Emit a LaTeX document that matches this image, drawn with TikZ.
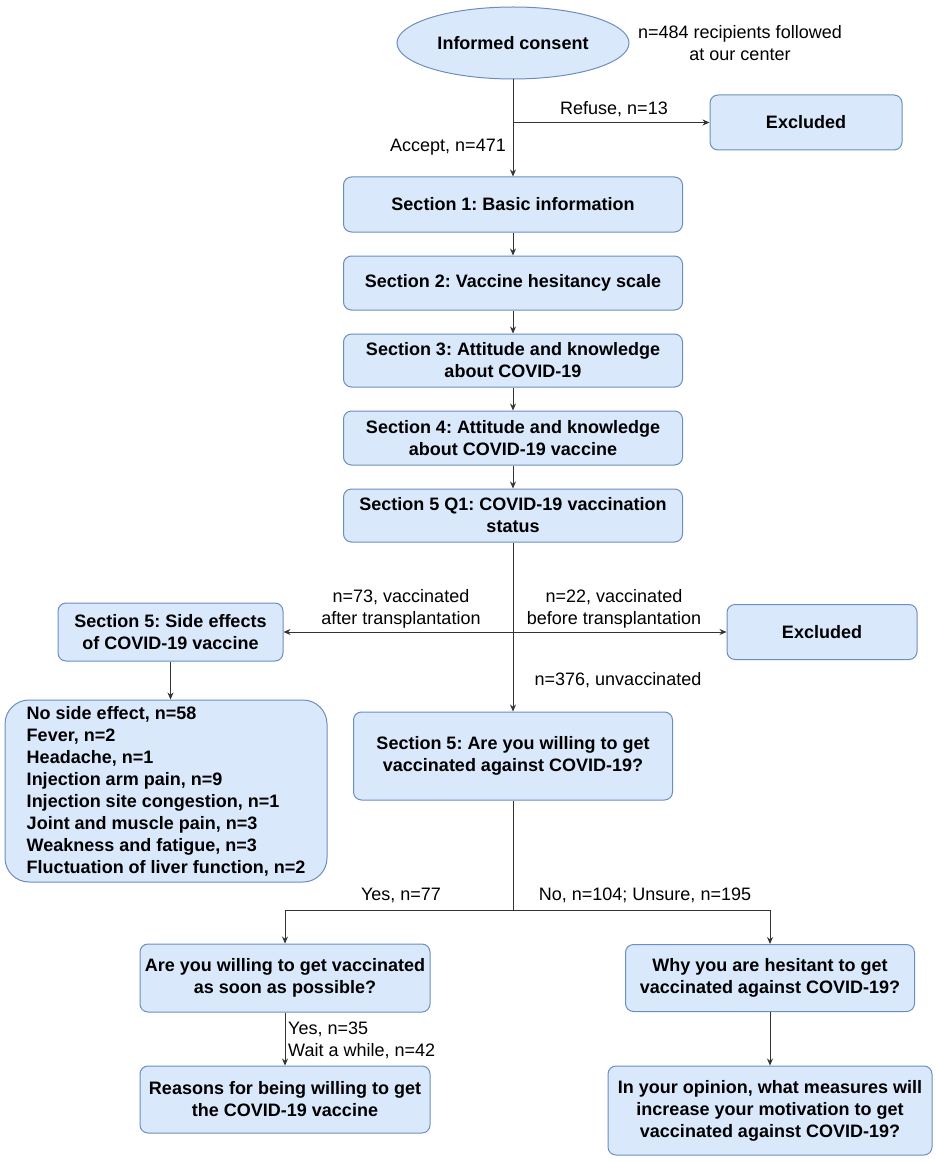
\documentclass[tikz,border=0pt]{standalone}
\usepackage{fontspec}
\setmainfont{Liberation Sans}
\usetikzlibrary{shapes.geometric,arrows.meta}
\definecolor{boxfill}{HTML}{DAE8FC}
\definecolor{boxline}{HTML}{6C8EBF}
\definecolor{edge}{HTML}{333333}
\frenchspacing
\begin{document}
\frenchspacing
\begin{tikzpicture}[x=1pt,y=-1pt,
  box/.style={draw=boxline, fill=boxfill, rounded corners=8pt, line width=1pt, align=center,
    font=\bfseries\fontsize{18}{22}\selectfont, inner sep=0pt},
  lbl/.style={font=\fontsize{18}{22}\selectfont, align=center, inner sep=0pt},
  arr/.style={draw=edge, line width=0.9pt, -{Stealth[length=7pt,width=6pt]}},
  ln/.style={draw=edge, line width=0.9pt}]
\useasboundingbox (0,0) rectangle (935,1161);

% nodes
\node[box, ellipse, rounded corners=0pt, minimum width=232pt, minimum height=72pt] (cons) at (513,43) {Informed consent};
\node[lbl] (info) at (740,43) {n=484 recipients followed\\at our center};
\node[box, minimum width=192pt, minimum height=55pt] (exc1) at (806,122.5) {Excluded};
\node[box, minimum width=339pt, minimum height=55pt] (s1) at (513,204.5) {Section 1: Basic information};
\node[box, minimum width=339pt, minimum height=54pt] (s2) at (513,283) {Section 2: Vaccine hesitancy scale};
\node[box, minimum width=339pt, minimum height=53pt] (s3) at (513,360.5) {Section 3: Attitude and knowledge\\about COVID-19};
\node[box, minimum width=339pt, minimum height=54pt] (s4) at (513,438) {Section 4: Attitude and knowledge\\about COVID-19 vaccine};
\node[box, minimum width=339pt, minimum height=53pt] (s5) at (513,515.5) {Section 5 Q1: COVID-19 vaccination\\status};
\node[box, minimum width=225pt, minimum height=58pt] (side) at (170.5,632) {Section 5: Side effects\\of COVID-19 vaccine};
\node[box, minimum width=190pt, minimum height=55pt] (exc2) at (822,632) {Excluded};
\node[box, rounded corners=24pt, align=left, minimum width=322pt, minimum height=182pt] (list) at (166,791)
  {No side effect, n=58\\Fever, n=2\\Headache, n=1\\Injection arm pain, n=9\\Injection site congestion, n=1\\Joint and muscle pain, n=3\\Weakness and fatigue, n=3\\Fluctuation of liver function, n=2};
\node[box, minimum width=319pt, minimum height=88pt] (will) at (513,756) {Section 5: Are you willing to get\\vaccinated against COVID-19?};
\node[box, minimum width=290pt, minimum height=68pt] (asap) at (285,978) {Are you willing to get vaccinated\\as soon as possible?};
\node[box, minimum width=289pt, minimum height=67pt] (hes) at (770,978) {Why you are hesitant to get\\vaccinated against COVID-19?};
\node[box, minimum width=290pt, minimum height=67pt] (reas) at (285,1099.5) {Reasons for being willing to get\\the COVID-19 vaccine};
\node[box, minimum width=324pt, minimum height=89pt] (opin) at (770,1110.5) {In your opinion, what measures will\\increase your motivation to get\\vaccinated against COVID-19?};

% connectors
\coordinate (r1) at (513,122.5);
\draw[arr] (cons.south) -- (s1.north);
\draw[arr] (r1) -- (exc1.west);
\draw[arr] (s1.south) -- (s2.north);
\draw[arr] (s2.south) -- (s3.north);
\draw[arr] (s3.south) -- (s4.north);
\draw[arr] (s4.south) -- (s5.north);
\coordinate (b1) at (513,632);
\draw[arr] (s5.south) -- (will.north);
\draw[arr] (b1) -- (side.east);
\draw[arr] (b1) -- (exc2.west);
\draw[arr] (side.south) -- (side.south |- list.north);
\coordinate (b2) at (513,910);
\draw[ln] (will.south) -- (b2);
\draw[arr] (b2) -| (asap.north);
\draw[arr] (b2) -| (hes.north);
\draw[arr] (asap.south) -- (reas.north);
\draw[arr] (hes.south) -- (opin.north);

% labels
\node[lbl] (refuse) at (614,109) {Refuse, n=13};
\node[lbl, anchor=east] (accept) at (506,147) {Accept, n=471};
\node[lbl] (n73) at (401,609) {n=73, vaccinated\\after transplantation};
\node[lbl] (n22) at (614,609) {n=22, vaccinated\\before transplantation};
\node[lbl] (n376) at (618,680) {n=376, unvaccinated};
\node[lbl] (yes77) at (401,895) {Yes, n=77};
\node[lbl] (no104) at (645,895) {No, n=104; Unsure, n=195};
\node[lbl, anchor=west, align=left] (yes35) at (288,1040) {Yes, n=35\\Wait a while, n=42};
\end{tikzpicture}
\end{document}
